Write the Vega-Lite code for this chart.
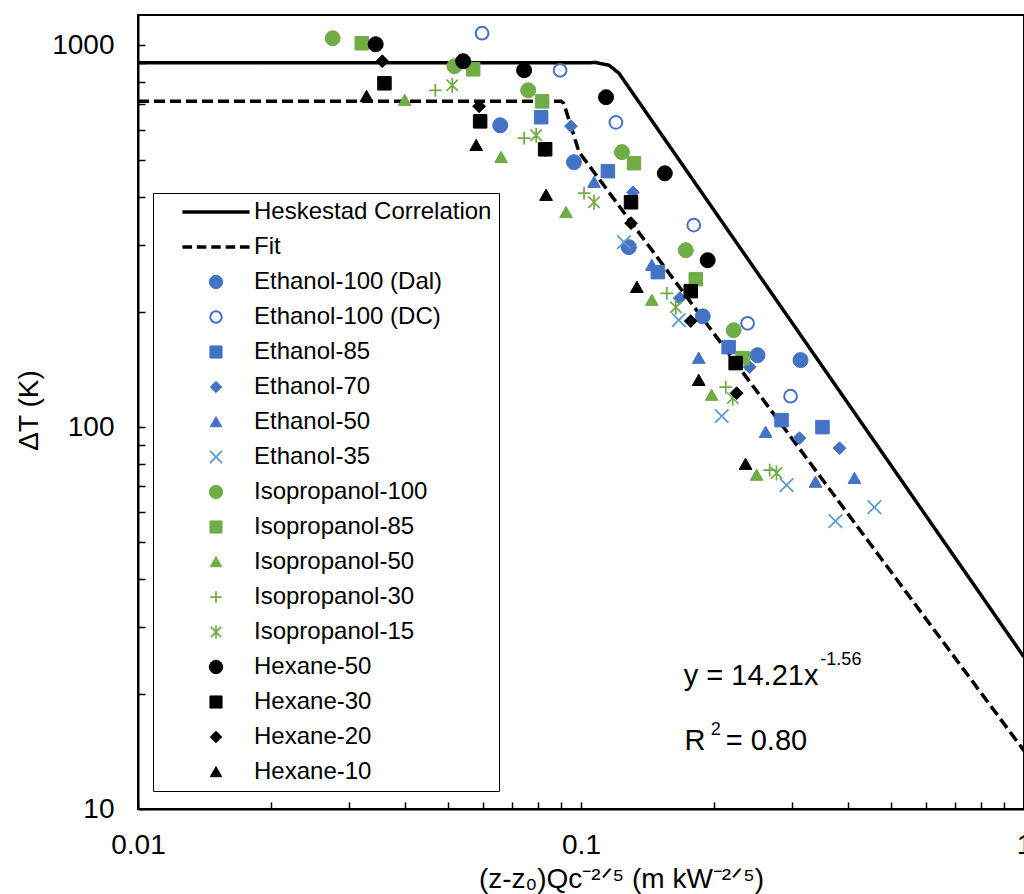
{
  "$schema": "https://vega.github.io/schema/vega-lite/v6.json",
  "width": 886,
  "height": 794,
  "autosize": {"type": "none"},
  "padding": {"left": 138, "top": 15, "right": 0, "bottom": 85},
  "background": "white",
  "datasets": {
    "curves": [
      {"curve": "Heskestad Correlation", "x": 0.01, "y": 900},
      {"curve": "Heskestad Correlation", "x": 0.104, "y": 900},
      {"curve": "Heskestad Correlation", "x": 0.108, "y": 901},
      {"curve": "Heskestad Correlation", "x": 0.1157, "y": 886},
      {"curve": "Heskestad Correlation", "x": 0.1218, "y": 845},
      {"curve": "Heskestad Correlation", "x": 0.1263, "y": 795},
      {"curve": "Heskestad Correlation", "x": 1.0, "y": 25},
      {"curve": "Fit", "x": 0.01, "y": 713},
      {"curve": "Fit", "x": 0.0902, "y": 713},
      {"curve": "Fit", "x": 0.0914, "y": 705},
      {"curve": "Fit", "x": 0.099, "y": 525},
      {"curve": "Fit", "x": 1.0, "y": 14.21}
    ],
    "points": [
      {"series": "Ethanol-100 (Dal)", "x": 0.0657, "y": 617},
      {"series": "Ethanol-100 (Dal)", "x": 0.0964, "y": 494},
      {"series": "Ethanol-100 (Dal)", "x": 0.1282, "y": 296},
      {"series": "Ethanol-100 (Dal)", "x": 0.1883, "y": 195},
      {"series": "Ethanol-100 (Dal)", "x": 0.2504, "y": 154.3},
      {"series": "Ethanol-100 (Dal)", "x": 0.313, "y": 149.8},
      {"series": "Ethanol-100 (DC)", "x": 0.0598, "y": 1075},
      {"series": "Ethanol-100 (DC)", "x": 0.0897, "y": 860},
      {"series": "Ethanol-100 (DC)", "x": 0.1199, "y": 628},
      {"series": "Ethanol-100 (DC)", "x": 0.1797, "y": 338},
      {"series": "Ethanol-100 (DC)", "x": 0.2377, "y": 187},
      {"series": "Ethanol-100 (DC)", "x": 0.2972, "y": 120.5},
      {"series": "Ethanol-85", "x": 0.0813, "y": 648},
      {"series": "Ethanol-85", "x": 0.115, "y": 468},
      {"series": "Ethanol-85", "x": 0.1491, "y": 254.6},
      {"series": "Ethanol-85", "x": 0.2154, "y": 162},
      {"series": "Ethanol-85", "x": 0.2836, "y": 104.3},
      {"series": "Ethanol-85", "x": 0.3508, "y": 100},
      {"series": "Ethanol-70", "x": 0.0949, "y": 614},
      {"series": "Ethanol-70", "x": 0.131, "y": 412},
      {"series": "Ethanol-70", "x": 0.1671, "y": 217.6},
      {"series": "Ethanol-70", "x": 0.2402, "y": 143.6},
      {"series": "Ethanol-70", "x": 0.3113, "y": 93.6},
      {"series": "Ethanol-70", "x": 0.3832, "y": 88.1},
      {"series": "Ethanol-50", "x": 0.107, "y": 438},
      {"series": "Ethanol-50", "x": 0.1445, "y": 265.5},
      {"series": "Ethanol-50", "x": 0.1844, "y": 151.6},
      {"series": "Ethanol-50", "x": 0.2611, "y": 97},
      {"series": "Ethanol-50", "x": 0.3383, "y": 71.8},
      {"series": "Ethanol-50", "x": 0.4142, "y": 73.5},
      {"series": "Ethanol-35", "x": 0.125, "y": 305},
      {"series": "Ethanol-35", "x": 0.1662, "y": 190.6},
      {"series": "Ethanol-35", "x": 0.2078, "y": 106.9},
      {"series": "Ethanol-35", "x": 0.2911, "y": 70.5},
      {"series": "Ethanol-35", "x": 0.3753, "y": 56.7},
      {"series": "Ethanol-35", "x": 0.4594, "y": 61.7},
      {"series": "Isopropanol-100", "x": 0.0275, "y": 1043},
      {"series": "Isopropanol-100", "x": 0.0518, "y": 881},
      {"series": "Isopropanol-100", "x": 0.076, "y": 762},
      {"series": "Isopropanol-100", "x": 0.1237, "y": 525},
      {"series": "Isopropanol-100", "x": 0.1724, "y": 290.6},
      {"series": "Isopropanol-100", "x": 0.2211, "y": 179.4},
      {"series": "Isopropanol-85", "x": 0.032, "y": 1012},
      {"series": "Isopropanol-85", "x": 0.0571, "y": 865},
      {"series": "Isopropanol-85", "x": 0.0817, "y": 713},
      {"series": "Isopropanol-85", "x": 0.1317, "y": 491},
      {"series": "Isopropanol-85", "x": 0.1816, "y": 244},
      {"series": "Isopropanol-85", "x": 0.2317, "y": 151.6},
      {"series": "Isopropanol-50", "x": 0.04, "y": 718},
      {"series": "Isopropanol-50", "x": 0.066, "y": 509},
      {"series": "Isopropanol-50", "x": 0.0925, "y": 365},
      {"series": "Isopropanol-50", "x": 0.1445, "y": 215},
      {"series": "Isopropanol-50", "x": 0.1972, "y": 121.3},
      {"series": "Isopropanol-50", "x": 0.2491, "y": 74.9},
      {"series": "Isopropanol-30", "x": 0.0469, "y": 762},
      {"series": "Isopropanol-30", "x": 0.0744, "y": 571},
      {"series": "Isopropanol-30", "x": 0.1016, "y": 410},
      {"series": "Isopropanol-30", "x": 0.1562, "y": 224},
      {"series": "Isopropanol-30", "x": 0.2122, "y": 127.3},
      {"series": "Isopropanol-30", "x": 0.2666, "y": 77.2},
      {"series": "Isopropanol-15", "x": 0.0512, "y": 786},
      {"series": "Isopropanol-15", "x": 0.0792, "y": 581},
      {"series": "Isopropanol-15", "x": 0.107, "y": 388},
      {"series": "Isopropanol-15", "x": 0.1637, "y": 206},
      {"series": "Isopropanol-15", "x": 0.22, "y": 119.1},
      {"series": "Isopropanol-15", "x": 0.2763, "y": 75.8},
      {"series": "Hexane-50", "x": 0.0344, "y": 1006},
      {"series": "Hexane-50", "x": 0.0542, "y": 908},
      {"series": "Hexane-50", "x": 0.0744, "y": 860},
      {"series": "Hexane-50", "x": 0.1139, "y": 731},
      {"series": "Hexane-50", "x": 0.1546, "y": 462},
      {"series": "Hexane-50", "x": 0.1932, "y": 273.6},
      {"series": "Hexane-30", "x": 0.036, "y": 795},
      {"series": "Hexane-30", "x": 0.0592, "y": 632},
      {"series": "Hexane-30", "x": 0.083, "y": 534},
      {"series": "Hexane-30", "x": 0.1297, "y": 388},
      {"series": "Hexane-30", "x": 0.1769, "y": 227},
      {"series": "Hexane-30", "x": 0.2234, "y": 147.1},
      {"series": "Hexane-20", "x": 0.0356, "y": 908},
      {"series": "Hexane-20", "x": 0.0589, "y": 692},
      {"series": "Hexane-20", "x": 0.083, "y": 531},
      {"series": "Hexane-20", "x": 0.1297, "y": 342},
      {"series": "Hexane-20", "x": 0.1769, "y": 189.5},
      {"series": "Hexane-20", "x": 0.2246, "y": 122.7},
      {"series": "Hexane-10", "x": 0.0328, "y": 735},
      {"series": "Hexane-10", "x": 0.058, "y": 547},
      {"series": "Hexane-10", "x": 0.0834, "y": 405},
      {"series": "Hexane-10", "x": 0.1337, "y": 232.5},
      {"series": "Hexane-10", "x": 0.1844, "y": 132.7},
      {"series": "Hexane-10", "x": 0.2352, "y": 80}
    ]
  },
  "layer": [
    {
      "data": {"name": "curves"},
      "mark": {"type": "line", "color": "black", "strokeWidth": 3.5, "clip": true},
      "encoding": {
        "x": {
          "field": "x", "type": "quantitative",
          "scale": {"type": "log", "domain": [0.01, 1], "nice": false},
          "axis": {
            "values": [0.01, 0.02, 0.03, 0.04, 0.05, 0.06, 0.07, 0.08, 0.09, 0.1, 0.2, 0.3, 0.4, 0.5, 0.6, 0.7, 0.8, 0.9, 1],
            "labelExpr": "datum.value == 0.01 || datum.value == 0.1 || datum.value == 1 ? datum.value + '' : ''",
            "labelPadding": 29,
            "title": "(z-z₀)Qc⁻²ᐟ⁵ (m kW⁻²ᐟ⁵)",
            "titleX": 483,
            "titleY": 78,
            "titleAlign": "center",
            "titleBaseline": "alphabetic"
          }
        },
        "y": {
          "field": "y", "type": "quantitative",
          "scale": {"type": "log", "domain": [10, 1200], "nice": false},
          "axis": {
            "values": [10, 20, 30, 40, 50, 60, 70, 80, 90, 100, 200, 300, 400, 500, 600, 700, 800, 900, 1000],
            "labelExpr": "datum.value == 10 || datum.value == 100 || datum.value == 1000 ? datum.value + '' : ''",
            "labelPadding": 31,
            "title": "ΔT (K)",
            "titleX": -101,
            "titleY": 395,
            "titleAngle": -90,
            "titleAlign": "center",
            "titleBaseline": "alphabetic"
          }
        },
        "strokeDash": {"field": "curve", "type": "nominal", "scale": {"domain": ["Heskestad Correlation", "Fit"], "range": [[1, 0], [11, 5]]}, "legend": null}
      }
    },
    {
      "data": {"name": "points"},
      "mark": {"type": "point", "size": 225, "opacity": 1},
      "encoding": {
        "x": {"field": "x", "type": "quantitative"},
        "y": {"field": "y", "type": "quantitative"},
        "shape": {
          "field": "series", "type": "nominal",
          "scale": {
            "domain": ["Heskestad Correlation", "Fit", "Ethanol-100 (Dal)", "Ethanol-100 (DC)", "Ethanol-85", "Ethanol-70", "Ethanol-50", "Ethanol-35", "Isopropanol-100", "Isopropanol-85", "Isopropanol-50", "Isopropanol-30", "Isopropanol-15", "Hexane-50", "Hexane-30", "Hexane-20", "Hexane-10"],
            "range": ["M-5,0H5", "M-5,0H-3.57M-2.86,0H-1.43M-0.71,0H0.71M1.43,0H2.86M3.57,0H5", "circle", "M0.85,0A0.85,0.85,0,1,1,-0.85,0A0.85,0.85,0,1,1,0.85,0Z", "M-0.9,-0.9H0.9V0.9H-0.9Z", "M0,-0.85L0.85,0L0,0.85L-0.85,0Z", "M0,-0.8L0.85,0.7H-0.85Z", "M-0.9,-0.9L0.9,0.9M-0.9,0.9L0.9,-0.9", "circle", "M-0.9,-0.9H0.9V0.9H-0.9Z", "M0,-0.8L0.85,0.7H-0.85Z", "M-0.85,0H0.85M0,-0.85V0.85", "M-0.75,-0.75L0.75,0.75M-0.75,0.75L0.75,-0.75M0,-1V1", "circle", "M-0.9,-0.9H0.9V0.9H-0.9Z", "M0,-0.85L0.85,0L0,0.85L-0.85,0Z", "M0,-0.8L0.85,0.7H-0.85Z"]
          },
          "legend": {"title": null, "orient": "none", "legendX": 15, "legendY": 178}
        },
        "fill": {
          "field": "series", "type": "nominal",
          "scale": {
            "domain": ["Heskestad Correlation", "Fit", "Ethanol-100 (Dal)", "Ethanol-100 (DC)", "Ethanol-85", "Ethanol-70", "Ethanol-50", "Ethanol-35", "Isopropanol-100", "Isopropanol-85", "Isopropanol-50", "Isopropanol-30", "Isopropanol-15", "Hexane-50", "Hexane-30", "Hexane-20", "Hexane-10"],
            "range": ["transparent", "transparent", "#4472C4", "transparent", "#4472C4", "#4472C4", "#4472C4", "transparent", "#70AD47", "#70AD47", "#70AD47", "transparent", "transparent", "#000000", "#000000", "#000000", "#000000"]
          },
          "legend": {"title": null, "orient": "none", "legendX": 15, "legendY": 178}
        },
        "stroke": {
          "field": "series", "type": "nominal",
          "scale": {
            "domain": ["Heskestad Correlation", "Fit", "Ethanol-100 (Dal)", "Ethanol-100 (DC)", "Ethanol-85", "Ethanol-70", "Ethanol-50", "Ethanol-35", "Isopropanol-100", "Isopropanol-85", "Isopropanol-50", "Isopropanol-30", "Isopropanol-15", "Hexane-50", "Hexane-30", "Hexane-20", "Hexane-10"],
            "range": ["#000000", "#000000", "#4472C4", "#4472C4", "#4472C4", "#4472C4", "#4472C4", "#5B9BD5", "#70AD47", "#70AD47", "#70AD47", "#70AD47", "#70AD47", "#000000", "#000000", "#000000", "#000000"]
          },
          "legend": {"title": null, "orient": "none", "legendX": 15, "legendY": 178}
        },
        "strokeWidth": {
          "field": "series", "type": "nominal",
          "scale": {
            "type": "ordinal",
            "domain": ["Heskestad Correlation", "Fit", "Ethanol-100 (Dal)", "Ethanol-100 (DC)", "Ethanol-85", "Ethanol-70", "Ethanol-50", "Ethanol-35", "Isopropanol-100", "Isopropanol-85", "Isopropanol-50", "Isopropanol-30", "Isopropanol-15", "Hexane-50", "Hexane-30", "Hexane-20", "Hexane-10"],
            "range": [3.5, 3.5, 1, 2, 1, 1, 1, 1.75, 1, 1, 1, 1.75, 1.75, 1, 1, 1, 1]
          },
          "legend": {"title": null, "orient": "none", "legendX": 15, "legendY": 178}
        }
      }
    },
    {
      "data": {"values": [{}]},
      "mark": {"type": "text", "align": "left", "baseline": "alphabetic", "fontSize": 29, "font": "Liberation Sans", "color": "black"},
      "encoding": {"x": {"datum": 0.1706, "type": "quantitative"}, "y": {"datum": 21.1, "type": "quantitative"}, "text": {"value": "y = 14.21x"}}
    },
    {
      "data": {"values": [{}]},
      "mark": {"type": "text", "align": "left", "baseline": "alphabetic", "fontSize": 18, "font": "Liberation Sans", "color": "black"},
      "encoding": {"x": {"datum": 0.347, "type": "quantitative"}, "y": {"datum": 23.8, "type": "quantitative"}, "text": {"value": "-1.56"}}
    },
    {
      "data": {"values": [{}]},
      "mark": {"type": "text", "align": "left", "baseline": "alphabetic", "fontSize": 29, "font": "Liberation Sans", "color": "black"},
      "encoding": {"x": {"datum": 0.1713, "type": "quantitative"}, "y": {"datum": 14.27, "type": "quantitative"}, "text": {"value": "R"}}
    },
    {
      "data": {"values": [{}]},
      "mark": {"type": "text", "align": "left", "baseline": "alphabetic", "fontSize": 18, "font": "Liberation Sans", "color": "black"},
      "encoding": {"x": {"datum": 0.1963, "type": "quantitative"}, "y": {"datum": 15.6, "type": "quantitative"}, "text": {"value": "2"}}
    },
    {
      "data": {"values": [{}]},
      "mark": {"type": "text", "align": "left", "baseline": "alphabetic", "fontSize": 29, "font": "Liberation Sans", "color": "black"},
      "encoding": {"x": {"datum": 0.2122, "type": "quantitative"}, "y": {"datum": 14.27, "type": "quantitative"}, "text": {"value": "= 0.80"}}
    }
  ],
  "config": {
    "font": "Liberation Sans",
    "view": {"stroke": "black", "strokeWidth": 2},
    "axis": {
      "grid": false,
      "domainColor": "black",
      "domainWidth": 2,
      "tickColor": "black",
      "tickWidth": 1.5,
      "tickSize": -7,
      "labelFont": "Liberation Sans",
      "labelFontSize": 28,
      "labelColor": "black",
      "labelFlush": false,
      "labelOverlap": false,
      "titleFont": "Liberation Sans",
      "titleFontSize": 28,
      "titleFontWeight": "normal",
      "titleColor": "black"
    },
    "legend": {
      "strokeColor": "black",
      "fillColor": "white",
      "padding": 7,
      "symbolSize": 180,
      "labelFont": "Liberation Sans",
      "labelFontSize": 24,
      "labelColor": "black",
      "labelLimit": 400,
      "rowPadding": 11,
      "symbolOffset": 44,
      "labelOffset": 26
    }
  }
}
